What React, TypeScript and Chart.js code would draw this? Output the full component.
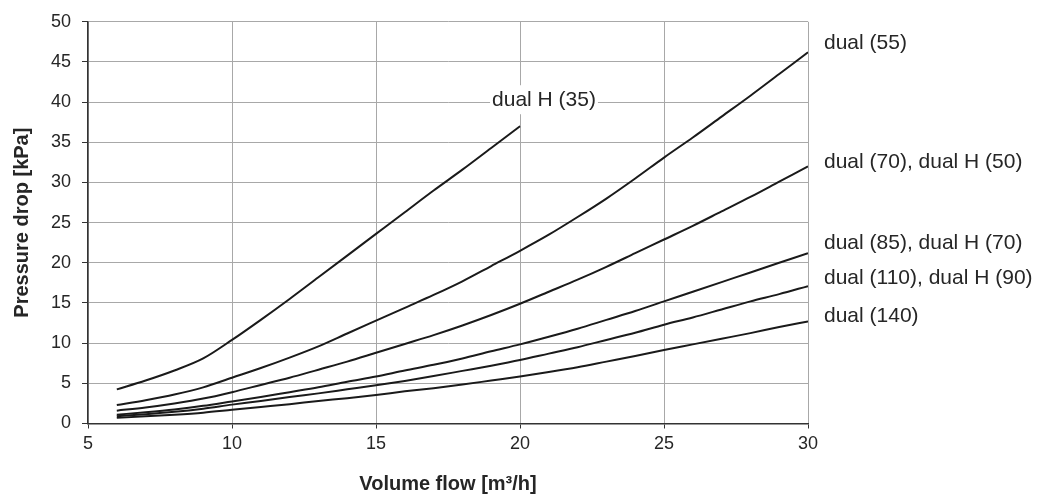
import React, { useEffect, useRef } from "react";
import { Chart, registerables } from "chart.js";

Chart.register(...registerables);

const flowValues = [6, 7, 8, 9, 10, 11, 12, 13, 14, 15, 16, 17, 18, 19, 20, 21, 22, 23, 24, 25, 26, 27, 28, 29, 30];

const dualH35 = [4.25, 5.35, 6.6, 8.1, 10.4, 12.9, 15.5, 18.2, 20.9, 23.6, 26.3, 29.0, 31.6, 34.3, 37.0];
const dual55 = [2.3, 2.9, 3.6, 4.5, 5.7, 6.9, 8.2, 9.6, 11.2, 12.8, 14.4, 16.0, 17.7, 19.6, 21.5, 23.5, 25.7, 28.0, 30.5, 33.1, 35.6, 38.2, 40.8, 43.5, 46.2];
const dual70 = [1.6, 2.0, 2.5, 3.1, 3.9, 4.8, 5.7, 6.7, 7.7, 8.8, 9.9, 11.0, 12.2, 13.5, 14.9, 16.4, 17.9, 19.5, 21.2, 22.9, 24.6, 26.4, 28.2, 30.1, 32.0];
const dual85 = [1.1, 1.4, 1.75, 2.2, 2.75, 3.3, 3.9, 4.5, 5.2, 5.85, 6.6, 7.3, 8.1, 9.0, 9.85, 10.8, 11.8, 12.9, 14.0, 15.2, 16.4, 17.6, 18.8, 20.0, 21.2];
const dual110 = [0.9, 1.15, 1.45, 1.85, 2.35, 2.8, 3.3, 3.75, 4.25, 4.75, 5.3, 5.9, 6.55, 7.2, 7.9, 8.7, 9.5, 10.4, 11.3, 12.3, 13.2, 14.2, 15.2, 16.1, 17.1];
const dual140 = [0.7, 0.9, 1.1, 1.35, 1.7, 2.05, 2.4, 2.8, 3.15, 3.55, 4.0, 4.4, 4.85, 5.35, 5.85, 6.4, 7.0, 7.7, 8.4, 9.15, 9.85, 10.55, 11.25, 12.0, 12.7];

const rightLabels = ["dual (55)", "dual (70), dual H (50)", "dual (85), dual H (70)", "dual (110), dual H (90)", "dual (140)"];
const rightLabelValues = [47.3, 32.5, 22.4, 18.1, 13.4];
const dualHLabel = "dual H (35)";
const dualHLabelPos = { x: 19.03, y: 40.3 };

const X_MIN = 5;
const X_MAX = 30;
const Y_MIN = 0;
const Y_MAX = 50;
const STEP = 5;

const FONT = "'Liberation Sans', Arial, Helvetica, sans-serif";
const TEXT = "#262626";

function toPoints(values: number[]) {
  return values.map((v, i) => ({ x: flowValues[i], y: v }));
}

const labelPlugin = {
  id: "curveLabels",
  afterDatasetsDraw(chart: any) {
    const { ctx, scales } = chart;
    const xs = scales.x;
    const ys = scales.y;
    ctx.save();
    ctx.font = `21px ${FONT}`;
    ctx.fillStyle = TEXT;
    ctx.textAlign = "left";
    ctx.textBaseline = "middle";
    const lx = xs.getPixelForValue(X_MAX) + 16;
    rightLabels.forEach((t, i) => {
      ctx.fillText(t, lx, ys.getPixelForValue(rightLabelValues[i]));
    });
    const hx = xs.getPixelForValue(dualHLabelPos.x);
    const hy = ys.getPixelForValue(dualHLabelPos.y);
    const w = ctx.measureText(dualHLabel).width;
    ctx.fillStyle = "#ffffff";
    ctx.fillRect(hx - 2, hy - 14.5, w + 4, 29);
    ctx.fillStyle = TEXT;
    ctx.fillText(dualHLabel, hx, hy);
    ctx.restore();
  },
};

export default function App() {
  const canvasRef = useRef<HTMLCanvasElement | null>(null);

  useEffect(() => {
    if (!canvasRef.current) return;
    const lineStyle = {
      borderColor: "#1a1a1a",
      borderWidth: 2,
      pointRadius: 0,
      cubicInterpolationMode: "monotone",
      fill: false,
    };
    const chart = new Chart(canvasRef.current, {
      type: "line",
      data: {
        datasets: [
          { label: "dual H (35)", data: toPoints(dualH35), ...lineStyle },
          { label: "dual (55)", data: toPoints(dual55), ...lineStyle },
          { label: "dual (70), dual H (50)", data: toPoints(dual70), ...lineStyle },
          { label: "dual (85), dual H (70)", data: toPoints(dual85), ...lineStyle },
          { label: "dual (110), dual H (90)", data: toPoints(dual110), ...lineStyle },
          { label: "dual (140)", data: toPoints(dual140), ...lineStyle },
        ],
      },
      options: {
        responsive: false,
        animation: false,
        layout: { padding: { top: 18, right: 231, left: 0, bottom: 0 } },
        plugins: {
          legend: { display: false },
          tooltip: { enabled: false },
          title: { display: false },
        },
        scales: {
          x: {
            type: "linear",
            min: X_MIN,
            max: X_MAX,
            ticks: {
              stepSize: STEP,
              color: TEXT,
              font: { family: FONT, size: 18 },
              padding: 5,
              maxRotation: 0,
            },
            grid: { color: "#a8a8a8", lineWidth: 1, tickLength: 5, tickColor: "#333333" },
            border: { display: true, color: "#333333", width: 1.5 },
            title: {
              display: true,
              text: "Volume flow [m³/h]",
              color: TEXT,
              font: { family: FONT, size: 20, weight: "bold" },
              padding: { top: 0, bottom: 1 },
            },
            afterFit: (scale: any) => {
              scale.height = 73.5;
            },
          },
          y: {
            type: "linear",
            min: Y_MIN,
            max: Y_MAX,
            ticks: {
              stepSize: STEP,
              color: TEXT,
              font: { family: FONT, size: 18 },
              padding: 11,
            },
            grid: { color: "#a8a8a8", lineWidth: 1, tickLength: 6, tickColor: "#333333" },
            border: { display: true, color: "#333333", width: 1.5 },
            title: {
              display: true,
              text: "Pressure drop [kPa]",
              color: TEXT,
              font: { family: FONT, size: 20, weight: "bold" },
              padding: { top: 10, bottom: 0 },
            },
            afterFit: (scale: any) => {
              scale.width = 88;
            },
          },
        },
      },
      plugins: [labelPlugin],
    } as any);
    return () => chart.destroy();
  }, []);

  return (
    <div style={{ position: "fixed", left: 0, top: 0, width: 1039, height: 497, background: "#fff" }}>
      <canvas ref={canvasRef} width={1039} height={497} style={{ display: "block" }} />
    </div>
  );
}
